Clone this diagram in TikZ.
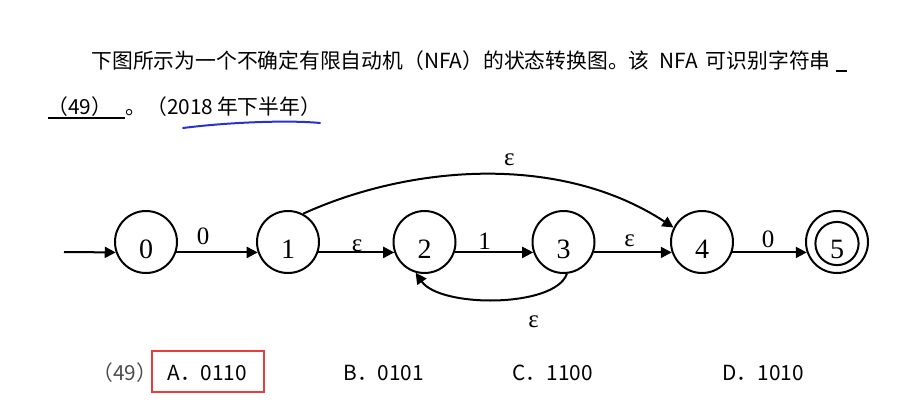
\documentclass[tikz,border=0pt]{standalone}
\usepackage{fontspec}
\setmainfont{Liberation Serif}
\newfontfamily\cjk{Noto Sans CJK SC}
\usetikzlibrary{arrows.meta}
\definecolor{markred}{RGB}{235, 60, 60}
\definecolor{penblue}{RGB}{40, 50, 210}

\begin{document}
\begin{tikzpicture}[x=0.5pt, y=-0.5pt,
    state/.style={circle, draw, line width=1pt, minimum size=31pt, inner sep=0pt,
        font=\fontsize{14}{16}\selectfont, text height=16.4pt, text depth=0pt},
    trans/.style={line width=1pt, -{Triangle[length=5.5pt, width=5.5pt]}},
    lbl/.style={inner sep=0pt, font=\fontsize{12.5}{14}\selectfont},
    txt/.style={anchor=base west, inner sep=0pt, font=\cjk\fontsize{10.4}{12}\selectfont}]
    \useasboundingbox (0,0) rectangle (900,403);

    % Question text
    \node[txt] (line1) at (91,68.5) {下图所示为一个不确定有限自动机（NFA）的状态转换图。该\hspace{5pt}NFA\hspace{4pt}可识别字符串};
    \draw[line width=1pt] (836,71) -- (847,71);
    \node[txt] (blank) at (47,114) {（49）};
    \draw[line width=1pt] (48,118) -- (125,118);
    \node[txt] (year) at (125,114) {。（2018\hspace{2pt}年下半年）};
    \draw[penblue, line width=1pt, line cap=round] (183,128) .. controls (230,122) and (290,120) .. (320,123);

    % States
    \node[state] (s0) at (146,242) {0};
    \node[state] (s1) at (288,242) {1};
    \node[state] (s2) at (424.5,242) {2};
    \node[state] (s3) at (563.5,242) {3};
    \node[state] (s4) at (702,242) {4};
    \node[state] (s5) at (837,242) {5};
    \draw[line width=1pt] ([yshift=-0.75pt]s5.center) circle[radius=10.8pt];

    % Transitions
    \coordinate (start) at (64,252);
    \draw[trans] (start) -- (s0.199);
    \draw[trans] (s0.-19) -- node[lbl, pos=.33, above=3.3pt] {0} (s1.199);
    \draw[trans] (s1.-19) -- node[lbl, pos=.51, above=0pt] {ε} (s2.199);
    \draw[trans] (s2.-19) -- node[lbl, pos=.38, above=1.2pt] {1} (s3.199);
    \draw[trans] (s3.-19) -- node[lbl, pos=.46, above=2.3pt] {ε} (s4.199);
    \draw[trans] (s4.-19) -- node[lbl, pos=.48, above=1.7pt] {0} (s5.199);
    \draw[trans] (s1.62) .. controls (410,165) and (560,153) .. node[lbl, pos=.56, above=4pt] {ε} (s4.153);
    \draw[trans] (s3.-84) .. controls (555,308) and (440,308) .. node[lbl, pos=.3, below=9.5pt] {ε} (s2.-106);

    % Options
    \node[txt, text=black!70] (qnum) at (92,380) {（49）};
    \node[txt] (optA) at (167,380) {A．0110};
    \node[txt] (optB) at (343,380) {B．0101};
    \node[txt] (optC) at (512,380) {C．1100};
    \node[txt] (optD) at (722,380) {D．1010};
    \draw[markred, line width=1.2pt] (152,351) rectangle (264,392);
\end{tikzpicture}
\end{document}
